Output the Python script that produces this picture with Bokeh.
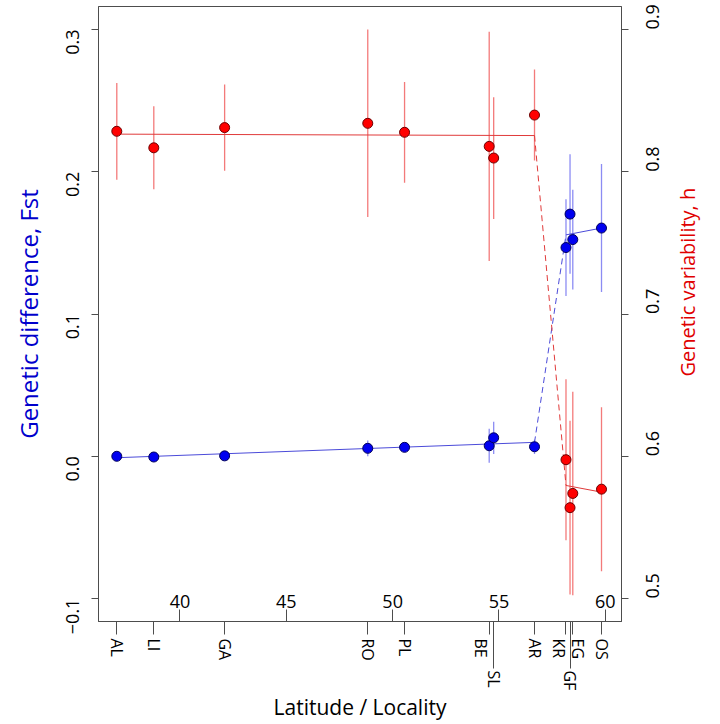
import math
from bokeh.plotting import figure
from bokeh.models import (Range1d, LinearAxis, FixedTicker, CustomJSTickFormatter,
                          ColumnDataSource)
from bokeh.embed import file_html
from bokeh.resources import INLINE

# ---------------- data ----------------
locality = ["AL", "LI", "GA", "RO", "PL", "BE", "SL", "AR", "KR", "GF", "EG", "OS"]
latitude = [37.03, 38.77, 42.10, 48.83, 50.56, 54.54, 54.75, 56.67, 58.15, 58.34, 58.47, 59.82]
fst = [0.0, -0.0005, 0.0003, 0.0056, 0.0063, 0.0074, 0.0130, 0.0067, 0.1467, 0.1702, 0.1523, 0.1604]
fst_err = [0.001, 0.001, 0.0015, 0.0055, 0.002, 0.012, 0.0113, 0.005, 0.034, 0.042, 0.035, 0.045]
h = [0.8284, 0.8168, 0.8310, 0.8340, 0.8277, 0.8178, 0.8096, 0.8398, 0.5976, 0.5639, 0.5739, 0.5769]
h_err = [0.034, 0.0292, 0.0303, 0.0659, 0.0354, 0.0805, 0.0428, 0.032, 0.0566, 0.061, 0.0715, 0.0576]

# piecewise fits: south segment, break (dashed), north segment
fit_lat = [37.03, 56.67, 58.15, 59.82]
fst_fit = [-0.001, 0.0098, 0.1556, 0.1604]
h_fit = [0.8264, 0.8254, 0.5795, 0.5748]

lat_ticks = [40, 45, 50, 55, 60]
fst_ticks = [-0.1, 0.0, 0.1, 0.2, 0.3]
h_ticks = [0.5, 0.6, 0.7, 0.8, 0.9]
second_row = ["SL", "GF"]
# small sideways nudges of crowded locality names (degrees), as in the reference
label_nudge = {"BE": -0.40, "KR": -0.31, "EG": 0.26}

x_title = "Latitude / Locality"
y_title = "Genetic difference, Fst"
y2_title = "Genetic variability, h"
y2_title_at = 0.656          # the right-hand title sits below the axis centre

x_lo, x_hi = 36.17, 60.76
y_lo, y_hi = -0.1161, 0.3161
h_offset = 0.6

FONT = "Open Sans"
AXC = "#4d4d4d"

# ---------------- figure ----------------
p = figure(width=720, height=724,
           x_range=Range1d(x_lo, x_hi), y_range=Range1d(y_lo, y_hi),
           output_backend="svg", toolbar_location=None,
           min_border_left=98, min_border_right=99, min_border_top=6, min_border_bottom=100)
p.extra_y_ranges = {"h": Range1d(y_lo + h_offset, y_hi + h_offset)}
p.xgrid.visible = False
p.ygrid.visible = False
p.outline_line_color = AXC
p.outline_line_width = 1
p.background_fill_color = "white"
p.border_fill_color = "white"


def style_axis(ax, size="17px"):
    ax.axis_line_color = AXC
    ax.major_tick_line_color = AXC
    ax.minor_tick_line_color = None
    ax.major_label_text_font = FONT
    ax.major_label_text_font_size = size
    ax.major_label_text_color = "black"
    ax.axis_label_text_font = FONT
    ax.axis_label_text_font_style = "normal"


def name_formatter(lats, names):
    return CustomJSTickFormatter(args=dict(lats=lats, names=names), code="""
        let best = 0, d = 1e9;
        for (let i = 0; i < lats.length; i++) {
            const dd = Math.abs(lats[i] - tick);
            if (dd < d) { d = dd; best = i; }
        }
        return names[best];
    """)


# left axis: Fst
yax = p.yaxis[0]
style_axis(yax, "18px")
yax.ticker = FixedTicker(ticks=fst_ticks)
yax.formatter = CustomJSTickFormatter(code="""
    return (tick < -1e-9 ? "\u2212" : "") + Math.abs(tick).toFixed(1);
""")
yax.major_label_orientation = math.pi / 2
yax.major_tick_out = 7
yax.major_tick_in = 0
yax.major_label_standoff = 19
yax.axis_label = y_title
yax.axis_label_text_color = "#0000cc"
yax.axis_label_text_font_size = "24px"
yax.axis_label_standoff = 12

# right axis: h
rax = LinearAxis(y_range_name="h", ticker=FixedTicker(ticks=h_ticks))
style_axis(rax, "18px")
rax.major_label_orientation = math.pi / 2
rax.major_tick_out = 7
rax.major_tick_in = 0
rax.major_label_standoff = 24
p.add_layout(rax, "right")

# right-hand title (reads bottom to top, placed below centre)
rax2 = LinearAxis(y_range_name="h", ticker=FixedTicker(ticks=[y2_title_at]),
                  formatter=CustomJSTickFormatter(args=dict(t=y2_title), code="return t;"))
style_axis(rax2, "20px")
rax2.axis_line_color = None
rax2.major_tick_line_color = None
rax2.major_tick_out = 0
rax2.major_tick_in = 0
rax2.major_label_orientation = math.pi / 2
rax2.major_label_text_color = "#e00000"
rax2.major_label_standoff = 19
p.add_layout(rax2, "right")

# bottom axis A: short locality ticks (no labels)
xax = p.xaxis[0]
style_axis(xax, "16px")
xax.ticker = FixedTicker(ticks=latitude)
xax.formatter = CustomJSTickFormatter(code="return '';")
xax.major_tick_out = 13
xax.major_tick_in = 0
xax.major_label_standoff = 0

# bottom axis B: first row of locality names
first_names = [nm for nm in locality if nm not in second_row]
first_pos = [la + label_nudge.get(nm, 0.0) for la, nm in zip(latitude, locality) if nm not in second_row]
xaxB = LinearAxis(ticker=FixedTicker(ticks=first_pos), formatter=name_formatter(first_pos, first_names))
style_axis(xaxB, "16px")
xaxB.axis_line_color = None
xaxB.major_tick_line_color = None
xaxB.major_tick_out = 0
xaxB.major_tick_in = 0
xaxB.major_label_orientation = -math.pi / 2
xaxB.major_label_standoff = 4
p.add_layout(xaxB, "below")

# bottom axis C: second row of locality names with long ticks, and the x title
second_names = [nm for nm in locality if nm in second_row]
second_lat = [la for la, nm in zip(latitude, locality) if nm in second_row]
xaxC = LinearAxis(ticker=FixedTicker(ticks=second_lat), formatter=name_formatter(second_lat, second_names))
style_axis(xaxC, "16px")
xaxC.axis_line_color = None
xaxC.major_label_orientation = -math.pi / 2
xaxC.major_tick_in = 34
xaxC.major_tick_out = 5
xaxC.major_label_standoff = 2
xaxC.axis_label = x_title
xaxC.axis_label_text_color = "black"
xaxC.axis_label_text_font_size = "21px"
xaxC.axis_label_standoff = 0
p.add_layout(xaxC, "below")

# latitude scale drawn inside the frame along its bottom edge
lax = LinearAxis(ticker=FixedTicker(ticks=lat_ticks), fixed_location=y_lo)
style_axis(lax, "18px")
lax.axis_line_color = None
lax.major_tick_out = 12
lax.major_tick_in = 0
lax.major_label_standoff = 2
p.add_layout(lax, "above")

# ---------------- data marks ----------------
src = ColumnDataSource(dict(
    lat=latitude, fst=fst,
    fst_lo=[v - e for v, e in zip(fst, fst_err)], fst_hi=[v + e for v, e in zip(fst, fst_err)],
    h=h, h_lo=[v - e for v, e in zip(h, h_err)], h_hi=[v + e for v, e in zip(h, h_err)],
))

# error bars
p.segment(x0="lat", y0="h_lo", x1="lat", y1="h_hi", source=src, y_range_name="h",
          line_color="#f26b6b", line_width=1.3, line_alpha=0.9)
p.segment(x0="lat", y0="fst_lo", x1="lat", y1="fst_hi", source=src,
          line_color="#7f7ff2", line_width=1.3, line_alpha=0.9)

# fitted lines
p.line(fit_lat[0:2], fst_fit[0:2], line_color="#4b4bd9", line_width=1)
p.line(fit_lat[1:3], fst_fit[1:3], line_color="#4b4bd9", line_width=1, line_dash="6 4")
p.line(fit_lat[2:4], fst_fit[2:4], line_color="#4b4bd9", line_width=1)
p.line(fit_lat[0:2], h_fit[0:2], line_color="#e03a3a", line_width=1, y_range_name="h")
p.line(fit_lat[1:3], h_fit[1:3], line_color="#e03a3a", line_width=1, line_dash="6 4", y_range_name="h")
p.line(fit_lat[2:4], h_fit[2:4], line_color="#e03a3a", line_width=1, y_range_name="h")

# points
p.scatter("lat", "h", source=src, y_range_name="h", size=10,
          fill_color="#ff0000", line_color="#6b0000", line_width=1)
p.scatter("lat", "fst", source=src, size=10,
          fill_color="#0000f0", line_color="#00005a", line_width=1)

open("out.html", "w").write(file_html(p, INLINE))
